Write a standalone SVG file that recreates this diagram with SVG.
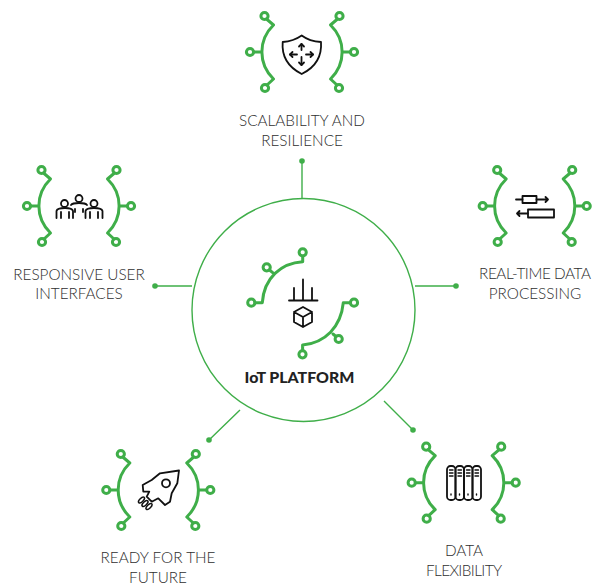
<svg xmlns="http://www.w3.org/2000/svg" width="598" height="584" viewBox="0 0 598 584">
<style>
.g{fill:none;stroke:#3fae49;stroke-width:3;stroke-linecap:round;stroke-linejoin:round}
.c{fill:none;stroke:#3fae49;stroke-width:1.4}
.d{fill:#3fae49}
.k{fill:none;stroke:#111;stroke-width:1.8;stroke-linecap:round;stroke-linejoin:round}
.l{font-family:"Lato","Liberation Sans",sans-serif;font-weight:300;font-size:15.3px;fill:#2e2e2e;text-anchor:middle}
.t{font-family:"Lato","Liberation Sans",sans-serif;font-weight:900;font-size:15.9px;fill:#222;text-anchor:middle}
</style>
<defs>
<g id="br" class="g">
<circle cx="-37.5" cy="-36" r="3.6"/><circle cx="-52" cy="0" r="3.6"/><circle cx="-37" cy="36" r="3.6"/>
<circle cx="37.5" cy="-36" r="3.6"/><circle cx="52" cy="0" r="3.6"/><circle cx="37" cy="36" r="3.6"/>
<path d="M-35.500-33-28.500-27C-44-12-44 12-28.500 27L-35 33M-48.400 0H-40"/>
<path d="M35.500-33 28.500-27C44-12 44 12 28.500 27L35 33M48.400 0H40"/>
</g>
</defs>
<rect width="598" height="584" fill="#fff"/>
<g id="connectors">
<circle class="c" cx="303.500" cy="310" r="111.500"/>
<path class="c" d="M302 199V162M192 286H155M415 286H454M240 410 209 440M384 401 413 430"/>
<circle class="d" cx="302" cy="161" r="2.800"/><circle class="d" cx="155" cy="286" r="2.800"/><circle class="d" cx="456" cy="286" r="2.800"/><circle class="d" cx="209" cy="440" r="2.800"/><circle class="d" cx="413" cy="430" r="2.800"/>
</g>
<g id="center">
<g class="g">
<circle cx="251.300" cy="302.700" r="3.600"/><circle cx="302.700" cy="252.300" r="3.600"/><circle cx="266.700" cy="267.300" r="3.600"/>
<circle cx="354" cy="302.700" r="3.600"/><circle cx="302.500" cy="354.300" r="3.600"/><circle cx="338.700" cy="339" r="3.600"/>
<path d="M255 302.700H262.300C264 278 281 263 302.700 261.700V256M269.500 270 272.700 272.700"/>
<path d="M350.300 302.700H343.300C341 327 325 343 302.600 345V350.600M336 336.500 333 334"/>
</g>
<path class="k" d="M289 300.500H317.500M294 300V288M303 300V279.500M312 300V288"/>
<path class="k" d="M303 307 294 312V322L303 327 312 322V312ZM294 312 303 317 312 312M303 317V327"/>
<text class="t" x="299.500" y="383">IoT PLATFORM</text>
</g>
<g id="scalability">
<use href="#br" x="302" y="52"/>
<path class="k" d="M282.700 42C290 41.500 296 39.500 301.700 35.500 307 39.500 313 41.500 321 42 322 56 316 67 301.700 74 288 67 281.500 56 282.700 42Z"/>
<path class="k" d="M301.500 44V50M301.500 57V65M290 54.500H297M306 54.500H313"/>
<path class="k" d="M299 46.500 301.500 44 304 46.500M299 62.500 301.500 65 304 62.500M292.500 52 290 54.500 292.500 57M310.500 52 313 54.500 310.500 57"/>
<text class="l" x="302" y="125.500">SCALABILITY AND</text>
<text class="l" x="302" y="145.500">RESILIENCE</text>
</g>
<g id="responsive">
<use href="#br" x="79" y="206"/>
<g class="k">
<circle cx="64.500" cy="203.500" r="3.500"/><circle cx="79" cy="198.500" r="3.500"/><circle cx="94" cy="203.500" r="3.500"/>
<path d="M56.500 218V211C57 208.500 60 208 65 208 70 208 72.500 209 73 211V218M61 218V212M69 218V212"/>
<path d="M71 205C72 203.500 75 203 79 203 83 203 86 203.500 87 205M75 209V212M83 209V212"/>
<path d="M85.500 218V211C86 209 89 208 94 208 99 208 102 209 102.500 211V218M90 218V212M98 218V212"/>
</g>
<text class="l" x="79" y="279.500">RESPONSIVE USER</text>
<text class="l" x="79" y="298.500">INTERFACES</text>
</g>
<g id="realtime">
<use href="#br" x="534.700" y="206"/>
<g class="k">
<rect x="522.500" y="196" width="14" height="7"/>
<rect x="528" y="209.500" width="26" height="8"/>
<path d="M516 199.500H522.500M536.500 199.500H548M545.500 197 548 199.500 545.500 202M528 213.500H517M519.500 211 517 213.500 519.500 216"/>
</g>
<text class="l" x="535" y="278.500" textLength="112">REAL-TIME DATA</text>
<text class="l" x="535" y="298.500">PROCESSING</text>
</g>
<g id="ready">
<use href="#br" x="158.300" y="490"/>
<g class="k">
<path d="M179 470.500 160 473.300 151.700 480 142.700 485 143.300 491.700 149.300 491.700 146.700 496.700 151.700 501.700 158.300 498.300 165 505 170 501.700 171.700 493.300 177.300 483.300Z"/>
<circle cx="166" cy="483.300" r="4"/>
<g stroke-width="1.500">
<ellipse cx="141.500" cy="500" rx="3.800" ry="1.800" transform="rotate(-45 141.500 500)"/>
<ellipse cx="145" cy="503.500" rx="3.800" ry="1.800" transform="rotate(-45 145 503.500)"/>
<ellipse cx="149" cy="506.500" rx="3.800" ry="1.800" transform="rotate(-45 149 506.500)"/>
</g>
</g>
<text class="l" x="158" y="562.500">READY FOR THE</text>
<text class="l" x="158" y="582.500">FUTURE</text>
</g>
<g id="flexibility">
<use href="#br" x="463.700" y="482.700"/>
<g class="k">
<rect x="447" y="466" width="8.500" height="34" rx="3.500"/>
<rect x="455.500" y="466" width="8.500" height="34" rx="3.500"/>
<rect x="464" y="466" width="8.500" height="34" rx="3.500"/>
<rect x="472.500" y="466" width="8.500" height="34" rx="3.500"/>
<path stroke-width="1.400" d="M449.500 470H453M449.500 473H453M449.500 476H453M458 470H461.500M458 473H461.500M458 476H461.500M466.500 470H470M466.500 473H470M466.500 476H470M475 470H478.500M475 473H478.500M475 476H478.500M451 494V495M459.500 494V495M468 494V495M476.500 494V495"/>
</g>
<text class="l" x="464" y="555.500">DATA</text>
<text class="l" x="464" y="575.500" textLength="76">FLEXIBILITY</text>
</g>
</svg>
